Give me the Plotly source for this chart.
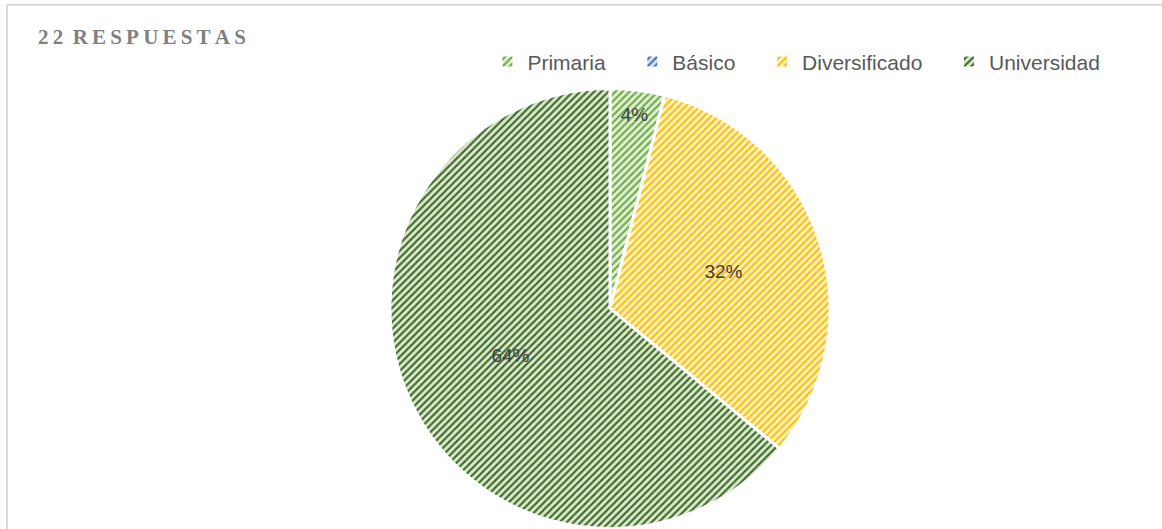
import plotly.graph_objects as go

# Education level of the 22 respondents (shares in %)
categories = ["Primaria", "Básico", "Diversificado", "Universidad"]
shares = [4, 0, 32, 64]
text_labels = ["4%", "", "32%", "64%"]

stripe_colors = ["#70AD47", "#4472C4", "#FFC000", "#3E6B25"]
back_colors = ["#E2F0D9", "#DAE3F3", "#FFF2CC", "#DCE9D2"]

title_text = "22 RESPUESTAS"

# wide letter spacing for the heading
words = ["\u2009".join(w) for w in title_text.split(" ")]
spaced_title = "\u2009 ".join(words)

# a little trailing room after each legend entry
legend_names = [c + "\u00a0\u00a0\u00a0\u2009" for c in categories]

fig = go.Figure(
    go.Pie(
        labels=legend_names,
        values=shares,
        text=text_labels,
        textinfo="text",
        textposition="inside",
        insidetextorientation="horizontal",
        textfont=dict(family="Liberation Sans", size=19, color="#404040"),
        sort=False,
        direction="clockwise",
        rotation=0,
        marker=dict(
            colors=back_colors,
            line=dict(color="white", width=3),
            pattern=dict(
                shape="/",
                fgcolor=stripe_colors,
                bgcolor=back_colors,
                size=5,
                solidity=0.42,
                fillmode="replace",
            ),
        ),
        domain=dict(x=[0.3356, 0.7143], y=[0.0, 0.834]),
        showlegend=True,
    )
)

fig.update_layout(
    width=1162,
    height=529,
    margin=dict(l=0, r=0, t=0, b=0),
    paper_bgcolor="white",
    plot_bgcolor="white",
    legend=dict(
        orientation="h",
        x=0.4195,
        y=0.883,
        xanchor="left",
        yanchor="middle",
        font=dict(family="Liberation Sans", size=21, color="#595959"),
        itemsizing="constant",
        itemwidth=30,
        traceorder="normal",
    ),
    shapes=[
        dict(type="line", xref="paper", yref="paper", x0=0.006, x1=1.0, y0=0.991, y1=0.991,
             line=dict(color="#D9D9D9", width=2)),
        dict(type="line", xref="paper", yref="paper", x0=0.006, x1=0.006, y0=0.0, y1=0.991,
             line=dict(color="#D9D9D9", width=2)),
    ],
    annotations=[
        dict(
            text="<b>" + spaced_title + "</b>",
            xref="paper", yref="paper", x=0.031, y=0.93,
            xanchor="left", yanchor="middle", showarrow=False,
            font=dict(family="Liberation Serif", size=21, color="#808080"),
        )
    ],
)

fig.write_html("out.html")
